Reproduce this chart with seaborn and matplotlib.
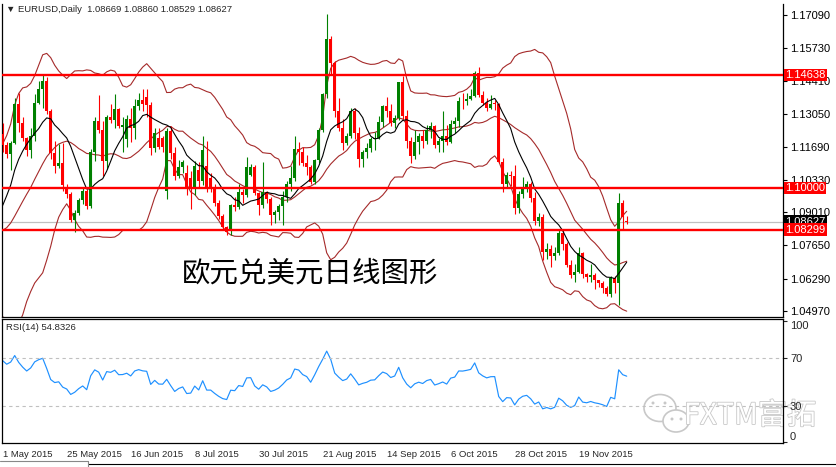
import numpy as np
import pandas as pd
import matplotlib
matplotlib.use("Agg")
import matplotlib.pyplot as plt
import matplotlib.transforms as mtransforms
import matplotlib.patheffects as pe
from matplotlib.patches import Ellipse
from matplotlib.lines import Line2D
import seaborn as sns

# April 2015 closes, only used to warm up the indicators (not drawn)
pre_close = [1.0760, 1.0890, 1.0970, 1.0925, 1.0800, 1.0780, 1.0660, 1.0600, 1.0570, 1.0660, 1.0680,
             1.0770, 1.0805, 1.0740, 1.0750, 1.0730, 1.0820, 1.0870, 1.0880, 1.0980, 1.1125, 1.1220]

# EURUSD daily, 1 May 2015 -> 7 Dec 2015 (one row per week in the comments)
open_ = [
    1.1222,
    1.1178, 1.1138, 1.1184, 1.1345, 1.1265,   # May 4
    1.1205, 1.1155, 1.1215, 1.1350, 1.1405,   # May 11
    1.1440, 1.1315, 1.1145, 1.1092, 1.1105,   # May 18
    1.1000, 1.0977, 1.0870, 1.0900, 1.0950,   # May 25
    1.0988, 1.0925, 1.1150, 1.1275, 1.1240,   # Jun 1
    1.1110, 1.1290, 1.1278, 1.1325, 1.1252,   # Jun 8
    1.1200, 1.1283, 1.1245, 1.1335, 1.1360,   # Jun 15
    1.1372, 1.1340, 1.1165, 1.1205, 1.1205,   # Jun 22
    1.0990, 1.1235, 1.1145, 1.1050, 1.1088,   # Jun 29
    1.1060, 1.1040, 1.1005, 1.1075, 1.1030,   # Jul 6
    1.1092, 1.1040, 1.1005, 1.0940, 1.0885,   # Jul 13
    1.0840, 1.0825, 1.0930, 1.0922, 1.0985,   # Jul 20
    1.0972, 1.1055, 1.1085, 1.0978, 1.0930,   # Jul 27
    1.0984, 1.0955, 1.0888, 1.0902, 1.0925,   # Aug 3
    1.0965, 1.1015, 1.1040, 1.1160, 1.1150,   # Aug 10
    1.1105, 1.1085, 1.1025, 1.1115, 1.1240,   # Aug 17
    1.1385, 1.1612, 1.1515, 1.1315, 1.1245,   # Aug 24
    1.1183, 1.1212, 1.1315, 1.1228, 1.1120,   # Aug 31
    1.1147, 1.1165, 1.1200, 1.1205, 1.1272,   # Sep 7
    1.1335, 1.1315, 1.1265, 1.1288, 1.1435,   # Sep 14
    1.1295, 1.1195, 1.1130, 1.1190, 1.1215,   # Sep 21
    1.1195, 1.1237, 1.1253, 1.1177, 1.1194,   # Sep 28
    1.1215, 1.1189, 1.1262, 1.1275, 1.1358,   # Oct 5
    1.1357, 1.1367, 1.1379, 1.1470, 1.1380,   # Oct 12
    1.1350, 1.1330, 1.1350, 1.1344, 1.1107,   # Oct 19
    1.1015, 1.1055, 1.1049, 1.0920, 1.0977,   # Oct 26
    1.1006, 1.1015, 1.0960, 1.0864, 1.0883,   # Nov 2
    1.0740, 1.0752, 1.0722, 1.0735, 1.0815,   # Nov 9
    1.0770, 1.0686, 1.0643, 1.0658, 1.0734,   # Nov 16
    1.0646, 1.0634, 1.0645, 1.0623, 1.0611,   # Nov 23
    1.0592, 1.0565, 1.0631, 1.0612, 1.0940,   # Nov 30
    1.08669,
]
high = [
    1.1268,
    1.1190, 1.1195, 1.1370, 1.1390, 1.1290,
    1.1210, 1.1245, 1.1385, 1.1440, 1.1467,
    1.1455, 1.1325, 1.1195, 1.1180, 1.1185,
    1.1015, 1.0985, 1.0910, 1.0960, 1.1000,
    1.0995, 1.1160, 1.1290, 1.1380, 1.1275,
    1.1300, 1.1345, 1.1385, 1.1330, 1.1290,
    1.1300, 1.1330, 1.1365, 1.1390, 1.1405,
    1.1405, 1.1355, 1.1245, 1.1245, 1.1215,
    1.1245, 1.1255, 1.1170, 1.1115, 1.1115,
    1.1095, 1.1072, 1.1113, 1.1106, 1.1215,
    1.1195, 1.1060, 1.1015, 1.0950, 1.0895,
    1.0845, 1.0935, 1.0965, 1.1018, 1.0995,
    1.1127, 1.1100, 1.1095, 1.0985, 1.1106,
    1.0990, 1.0965, 1.0912, 1.0935, 1.0990,
    1.1030, 1.1090, 1.1215, 1.1190, 1.1170,
    1.1135, 1.1095, 1.1120, 1.1245, 1.1390,
    1.1714, 1.1625, 1.1520, 1.1370, 1.1285,
    1.1225, 1.1330, 1.1330, 1.1250, 1.1155,
    1.1185, 1.1210, 1.1230, 1.1295, 1.1340,
    1.1375, 1.1345, 1.1300, 1.1437, 1.1460,
    1.1320, 1.1210, 1.1240, 1.1225, 1.1240,
    1.1260, 1.1270, 1.1260, 1.1205, 1.1315,
    1.1260, 1.1280, 1.1290, 1.1375, 1.1388,
    1.1390, 1.1405, 1.1480, 1.1495, 1.1400,
    1.1370, 1.1380, 1.1360, 1.1350, 1.1125,
    1.1065, 1.1070, 1.1095, 1.0990, 1.1045,
    1.1030, 1.1025, 1.0985, 1.0900, 1.0895,
    1.0775, 1.0765, 1.0760, 1.0830, 1.0830,
    1.0780, 1.0707, 1.0690, 1.0760, 1.0740,
    1.0650, 1.0690, 1.0650, 1.0625, 1.0620,
    1.0600, 1.0640, 1.0640, 1.0981, 1.0950,
    1.08860,
]
low = [
    1.1150,
    1.1125, 1.1075, 1.1180, 1.1230, 1.1195,
    1.1130, 1.1125, 1.1195, 1.1345, 1.1330,
    1.1305, 1.1120, 1.1060, 1.1082, 1.0990,
    1.0960, 1.0862, 1.0819, 1.0888, 1.0935,
    1.0915, 1.0920, 1.1110, 1.1228, 1.1050,
    1.1080, 1.1265, 1.1245, 1.1245, 1.1150,
    1.1170, 1.1190, 1.1200, 1.1320, 1.1315,
    1.1290, 1.1135, 1.1150, 1.1160, 1.1150,
    1.0955, 1.1120, 1.1035, 1.1040, 1.1060,
    1.0970, 1.0915, 1.0970, 1.1005, 1.1011,
    1.0985, 1.0985, 1.0925, 1.0875, 1.0830,
    1.0808, 1.0807, 1.0905, 1.0915, 1.0940,
    1.0965, 1.1048, 1.0970, 1.0888, 1.0920,
    1.0940, 1.0850, 1.0855, 1.0870, 1.0850,
    1.0945, 1.0990, 1.1030, 1.1095, 1.1090,
    1.1055, 1.1015, 1.1015, 1.1105, 1.1230,
    1.1370, 1.1465, 1.1290, 1.1235, 1.1155,
    1.1175, 1.1205, 1.1200, 1.1085, 1.1087,
    1.1125, 1.1150, 1.1155, 1.1200, 1.1250,
    1.1290, 1.1255, 1.1245, 1.1280, 1.1285,
    1.1165, 1.1105, 1.1120, 1.1140, 1.1165,
    1.1180, 1.1205, 1.1165, 1.1150, 1.1150,
    1.1175, 1.1185, 1.1225, 1.1250, 1.1325,
    1.1340, 1.1360, 1.1375, 1.1375, 1.1340,
    1.1315, 1.1325, 1.1320, 1.1105, 1.0985,
    1.1005, 1.1010, 1.0895, 1.0900, 1.0960,
    1.0985, 1.0945, 1.0850, 1.0845, 1.0705,
    1.0710, 1.0675, 1.0705, 1.0725, 1.0745,
    1.0675, 1.0630, 1.0617, 1.0650, 1.0630,
    1.0615, 1.0615, 1.0585, 1.0595, 1.0570,
    1.0557, 1.0555, 1.0570, 1.0520, 1.0830,
    1.08529,
]
close = [
    1.1178,
    1.1138, 1.1184, 1.1345, 1.1265, 1.1205,
    1.1155, 1.1215, 1.1350, 1.1405, 1.1440,
    1.1315, 1.1145, 1.1092, 1.1105, 1.1012,
    1.0977, 1.0870, 1.0900, 1.0950, 1.0988,
    1.0925, 1.1150, 1.1275, 1.1240, 1.1110,
    1.1290, 1.1278, 1.1325, 1.1255, 1.1258,
    1.1283, 1.1245, 1.1335, 1.1360, 1.1345,
    1.1340, 1.1165, 1.1225, 1.1170, 1.1168,
    1.1235, 1.1145, 1.1050, 1.1088, 1.1108,
    1.1000, 1.1005, 1.1090, 1.1030, 1.1155,
    1.1000, 1.1000, 1.0940, 1.0885, 1.0840,
    1.0822, 1.0930, 1.0922, 1.0985, 1.0972,
    1.1085, 1.1088, 1.0978, 1.0930, 1.0984,
    1.0955, 1.0888, 1.0902, 1.0925, 1.0965,
    1.1015, 1.1040, 1.1160, 1.1150, 1.1105,
    1.1085, 1.1025, 1.1115, 1.1240, 1.1385,
    1.1612, 1.1515, 1.1315, 1.1245, 1.1183,
    1.1212, 1.1315, 1.1228, 1.1120, 1.1147,
    1.1165, 1.1200, 1.1205, 1.1272, 1.1335,
    1.1315, 1.1265, 1.1288, 1.1435, 1.1295,
    1.1195, 1.1130, 1.1190, 1.1215, 1.1195,
    1.1237, 1.1253, 1.1177, 1.1194, 1.1215,
    1.1189, 1.1262, 1.1275, 1.1358, 1.1357,
    1.1367, 1.1379, 1.1470, 1.1380, 1.1350,
    1.1330, 1.1343, 1.1344, 1.1107, 1.1015,
    1.1055, 1.1049, 1.0920, 1.0977, 1.1006,
    1.1015, 1.0960, 1.0864, 1.0883, 1.0740,
    1.0752, 1.0722, 1.0735, 1.0815, 1.0770,
    1.0686, 1.0643, 1.0658, 1.0734, 1.0646,
    1.0634, 1.0645, 1.0623, 1.0611, 1.0592,
    1.0565, 1.0631, 1.0612, 1.0940, 1.0881,
    1.08627,
]

levels = [1.14638, 1.10000, 1.08299]
last_price = 1.08627
price_ticks = [1.17090, 1.15730, 1.14410, 1.13050, 1.11690, 1.10330, 1.09010, 1.07650, 1.06290, 1.04970]
date_pos = [0, 16, 32, 48, 64, 80, 96, 112, 128, 144]
date_labels = ["1 May 2015", "25 May 2015", "16 Jun 2015", "8 Jul 2015", "30 Jul 2015",
               "21 Aug 2015", "14 Sep 2015", "6 Oct 2015", "28 Oct 2015", "19 Nov 2015"]
header = "\u25bc EURUSD,Daily  1.08669 1.08860 1.08529 1.08627"
rsi_label = "RSI(14) 54.8326"
title_cn = "欧元兑美元日线图形"


def wilder_rsi(values, n=14):
    c = np.asarray(values, dtype=float)
    d = np.diff(c)
    g = np.clip(d, 0, None)
    l = np.clip(-d, 0, None)
    out = np.full(len(c), np.nan)
    ag, al = g[:n].mean(), l[:n].mean()
    out[n] = 100 - 100 / (1 + ag / al)
    for k in range(n, len(d)):
        ag = (ag * (n - 1) + g[k]) / n
        al = (al * (n - 1) + l[k]) / n
        out[k + 1] = 100 - 100 / (1 + ag / al)
    return out


# indicators
npre = len(pre_close)
s = pd.Series(pre_close + close)
mid = s.rolling(20).mean()
sd = s.rolling(20).std(ddof=0)
df = pd.DataFrame({
    "bar": np.arange(len(close)),
    "ma10": s.rolling(10).mean().values[npre:],
    "bb_mid": mid.values[npre:],
    "bb_up": (mid + 2 * sd).values[npre:],
    "bb_lo": (mid - 2 * sd).values[npre:],
    "rsi": wilder_rsi(pre_close + close)[npre:],
})

sns.set_style("white")
plt.rcParams['font.family'] = ['Liberation Sans', 'DejaVu Sans']

W, H = 837, 467
fig = plt.figure(figsize=(W / 100, H / 100), dpi=100)


def px_axes(x0, y0, x1, y1):
    a = fig.add_axes([x0 / W, 1 - y1 / H, (x1 - x0) / W, (y1 - y0) / H])
    a.set_facecolor("none")
    return a


ax = px_axes(2, 4, 783, 317)
ax_rsi = px_axes(2, 319, 783, 443)
xlim = (-0.175, -0.175 + 781 / 4)

# candles
o = np.array(open_); h = np.array(high); lo = np.array(low); c = np.array(close)
idx = np.arange(len(c))
cols = np.where(c >= o, "#008000", "#ff0000")
body = np.maximum(np.abs(c - o), 0.00005)
ax.vlines(idx, lo, h, colors=cols, lw=0.8, zorder=3)
ax.bar(idx, body, bottom=np.minimum(o, c), width=0.8, color=cols, linewidth=0, zorder=4)

brown = "#a52a2a"
for col in ["bb_up", "bb_mid", "bb_lo"]:
    sns.lineplot(data=df, x="bar", y=col, color=brown, lw=0.8, ax=ax, zorder=2)
sns.lineplot(data=df, x="bar", y="ma10", color="black", lw=0.8, ax=ax, zorder=5)

ax.axhline(last_price, color="#c0c0c0", lw=0.9, zorder=1)
for v in levels:
    ax.axhline(v, color="red", lw=1.7, zorder=6)

ax.set_xlim(*xlim)
ax.set_ylim(1.04716, 1.17549)
ax.set_xticks([])
ax.yaxis.tick_right()
ax.set_yticks(price_ticks)
ax.set_yticklabels([f"{t:.5f}" for t in price_ticks])
ax.tick_params(axis="y", direction="out", length=3, width=0.8, labelsize=8, pad=2, colors="black")
ax.set_xlabel(""); ax.set_ylabel("")
ax.spines["top"].set_visible(False)
for sp in ["left", "right", "bottom"]:
    ax.spines[sp].set_color("black"); ax.spines[sp].set_linewidth(0.9)

trans = mtransforms.blended_transform_factory(ax.transAxes, ax.transData)
for v, fc in [(levels[0], "red"), (levels[1], "red"), (last_price, "black"), (levels[2], "red")]:
    ax.text(1.003, v, f"{v:.5f}", transform=trans, ha="left", va="center", fontsize=8,
            color="white", bbox=dict(boxstyle="square,pad=0.1", fc=fc, ec="none"), zorder=10)

# RSI panel
sns.lineplot(data=df, x="bar", y="rsi", color="#1e90ff", lw=0.85, ax=ax_rsi)
for lv in [70, 30]:
    ax_rsi.axhline(lv, color="#c0c0c0", lw=0.8, ls=(0, (3, 3)))
ax_rsi.set_xlim(*xlim)
ax_rsi.set_ylim(-0.7, 102)
ax_rsi.yaxis.tick_right()
ax_rsi.set_yticks([100, 70, 30, 0])
ax_rsi.set_yticklabels(["100", "70", "30", "0"])
ylabs = ax_rsi.get_yticklabels()
ylabs[0].set_va("top"); ylabs[3].set_va("bottom")
ax_rsi.set_xticks(date_pos)
ax_rsi.set_xticklabels(date_labels)
for lab in ax_rsi.get_xticklabels():
    lab.set_ha("left")
ax_rsi.tick_params(axis="y", direction="out", length=3, width=0.8, labelsize=8, pad=2)
ax_rsi.tick_params(axis="x", direction="out", length=4, width=0.8, labelsize=6.8, pad=1)
ax_rsi.set_xlabel(""); ax_rsi.set_ylabel("")
for sp in ax_rsi.spines.values():
    sp.set_color("black"); sp.set_linewidth(0.9)

# texts
fig.text(6 / W, 1 - 9 / H, header, fontsize=6.8, va="center", ha="left")
fig.text(6 / W, 1 - 327 / H, rsi_label, fontsize=6.8, va="center", ha="left")
fig.text(310 / W, 1 - 273 / H, title_cn, fontsize=20.5, ha="center", va="center",
         family=["Noto Sans CJK SC", "DejaVu Sans"], color="black")

# watermark, kept underneath the axes so the RSI scale labels stay on top
fig.text(750 / W, 1 - 416 / H, "FXTM富拓", fontsize=21, ha="center", va="center",
         family=["Noto Sans CJK SC", "DejaVu Sans"], color="white", zorder=-1,
         path_effects=[pe.withStroke(linewidth=1.2, foreground="#c8c8c8")])
for cx, cy, ew, eh in [(660, 408, 32, 27), (676, 421, 26, 22)]:
    fig.add_artist(Ellipse((cx / W, 1 - cy / H), ew / W, eh / H, transform=fig.transFigure,
                           fc="white", ec="#c8c8c8", lw=1.2, zorder=-1))
for ex, ey in [(653, 403), (665, 403), (672, 419), (681, 419)]:
    fig.add_artist(Ellipse((ex / W, 1 - ey / H), 3 / W, 3 / H, transform=fig.transFigure,
                           fc="#c8c8c8", ec="none", zorder=-1))

# window frame bits at the bottom
fig.add_artist(Line2D([88 / W, 1], [1 - 463.5 / H] * 2, color="black", lw=0.8))
fig.add_artist(Line2D([0, 88 / W], [1 - 461 / H] * 2, color="#888888", lw=0.8))
fig.add_artist(Line2D([88 / W, 88 / W], [1 - 461 / H, 0], color="#888888", lw=0.8))

fig.savefig("out.png", dpi=100)
